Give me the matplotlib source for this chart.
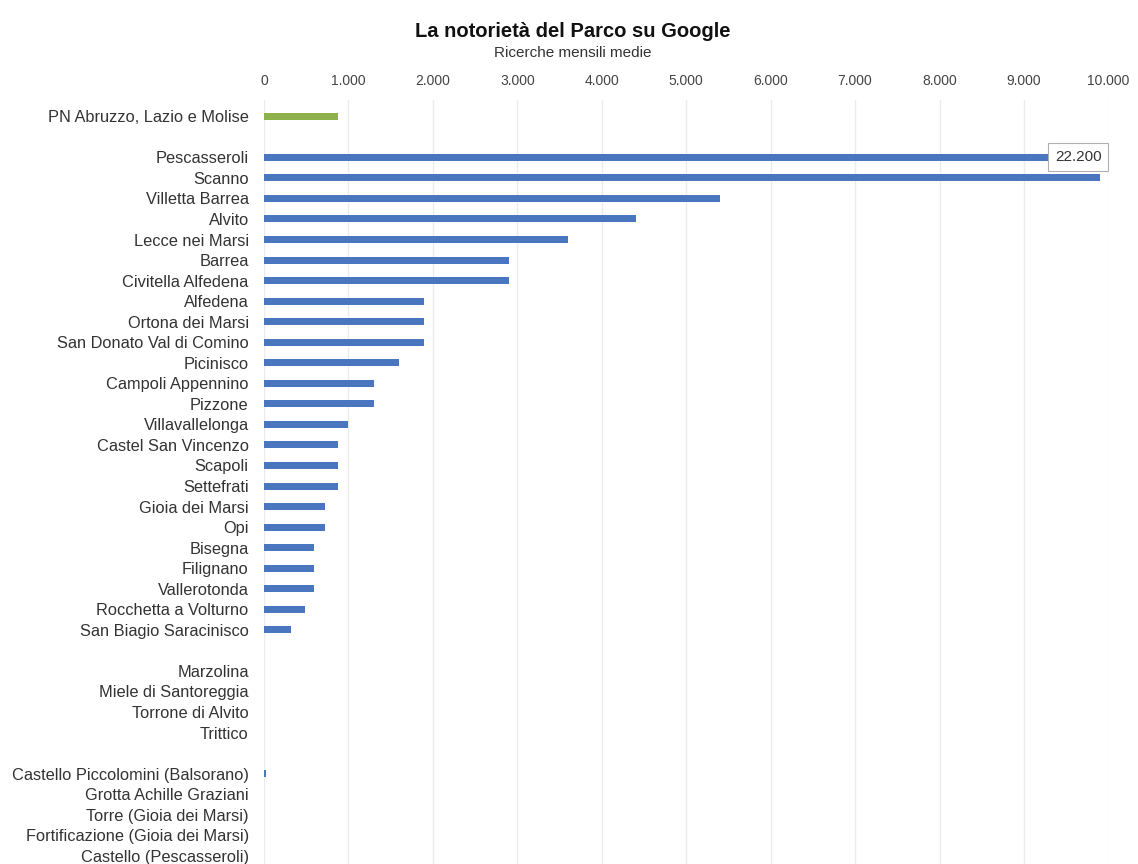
import matplotlib.pyplot as plt
import numpy as np
from matplotlib.ticker import FuncFormatter

plt.rcParams['font.family'] = ['Liberation Sans', 'DejaVu Sans']

# righe del grafico, '' = riga vuota di separazione tra i gruppi
labels = ['PN Abruzzo, Lazio e Molise', '',
          'Pescasseroli', 'Scanno', 'Villetta Barrea', 'Alvito', 'Lecce nei Marsi',
          'Barrea', 'Civitella Alfedena', 'Alfedena', 'Ortona dei Marsi',
          'San Donato Val di Comino', 'Picinisco', 'Campoli Appennino', 'Pizzone',
          'Villavallelonga', 'Castel San Vincenzo', 'Scapoli', 'Settefrati',
          'Gioia dei Marsi', 'Opi', 'Bisegna', 'Filignano', 'Vallerotonda',
          'Rocchetta a Volturno', 'San Biagio Saracinisco', '',
          'Marzolina', 'Miele di Santoreggia', 'Torrone di Alvito', 'Trittico', '',
          'Castello Piccolomini (Balsorano)', 'Grotta Achille Graziani',
          'Torre (Gioia dei Marsi)', 'Fortificazione (Gioia dei Marsi)',
          'Castello (Pescasseroli)']
# ricerche mensili medie
values = [880, 0,
          22200, 9900, 5400, 4400, 3600,
          2900, 2900, 1900, 1900,
          1900, 1600, 1300, 1300,
          1000, 880, 880, 880,
          720, 720, 590, 590, 590,
          480, 320, 0,
          0, 0, 0, 0, 0,
          20, 0,
          0, 0,
          0]
colors = ['#8fb14c'] + ['#4a76bf'] * (len(labels) - 1)

x_max = 10000

fig = plt.figure(figsize=(11.38, 8.64), dpi=100)
ax = fig.add_axes([0.232, 0.0, 0.742, 0.884])

y = np.arange(len(labels))
ax.barh(y, np.minimum(values, x_max), height=0.34, color=colors, zorder=3)

ax.set_xlim(0, x_max)
ax.set_ylim(36.4, -0.78)
ax.xaxis.tick_top()
ax.set_xticks(np.arange(0, x_max + 1, 1000))
ax.xaxis.set_major_formatter(FuncFormatter(lambda v, p: '{:,.0f}'.format(v).replace(',', '.')))
ax.set_yticks(y)
ax.set_yticklabels(labels)
ax.tick_params(axis='both', length=0, colors='#333333')
ax.tick_params(axis='x', pad=9, labelsize=10, labelcolor='#444444')
ax.tick_params(axis='y', pad=11, labelsize=11.8)
ax.grid(axis='x', color='#ececec', linewidth=1, zorder=0)
for s in ax.spines.values():
    s.set_visible(False)

# etichetta per la barra fuori scala
i_max = int(np.argmax(values))
ax.annotate('{:,.0f}'.format(values[i_max]).replace(',', '.'),
            xy=(x_max, y[i_max]), xytext=(-5, 0), textcoords='offset points',
            ha='right', va='center', fontsize=11, color='#333333', zorder=5,
            bbox=dict(boxstyle='square,pad=0.45', fc='white', ec='#b0b0b0', lw=0.8))

fig.text(0.5035, 0.964, 'La notorietà del Parco su Google', ha='center', va='center',
         fontsize=14.5, fontweight='bold', color='#111111')
fig.text(0.5035, 0.939, 'Ricerche mensili medie', ha='center', va='center',
         fontsize=11, color='#333333')

fig.savefig('out.png', dpi=100)
